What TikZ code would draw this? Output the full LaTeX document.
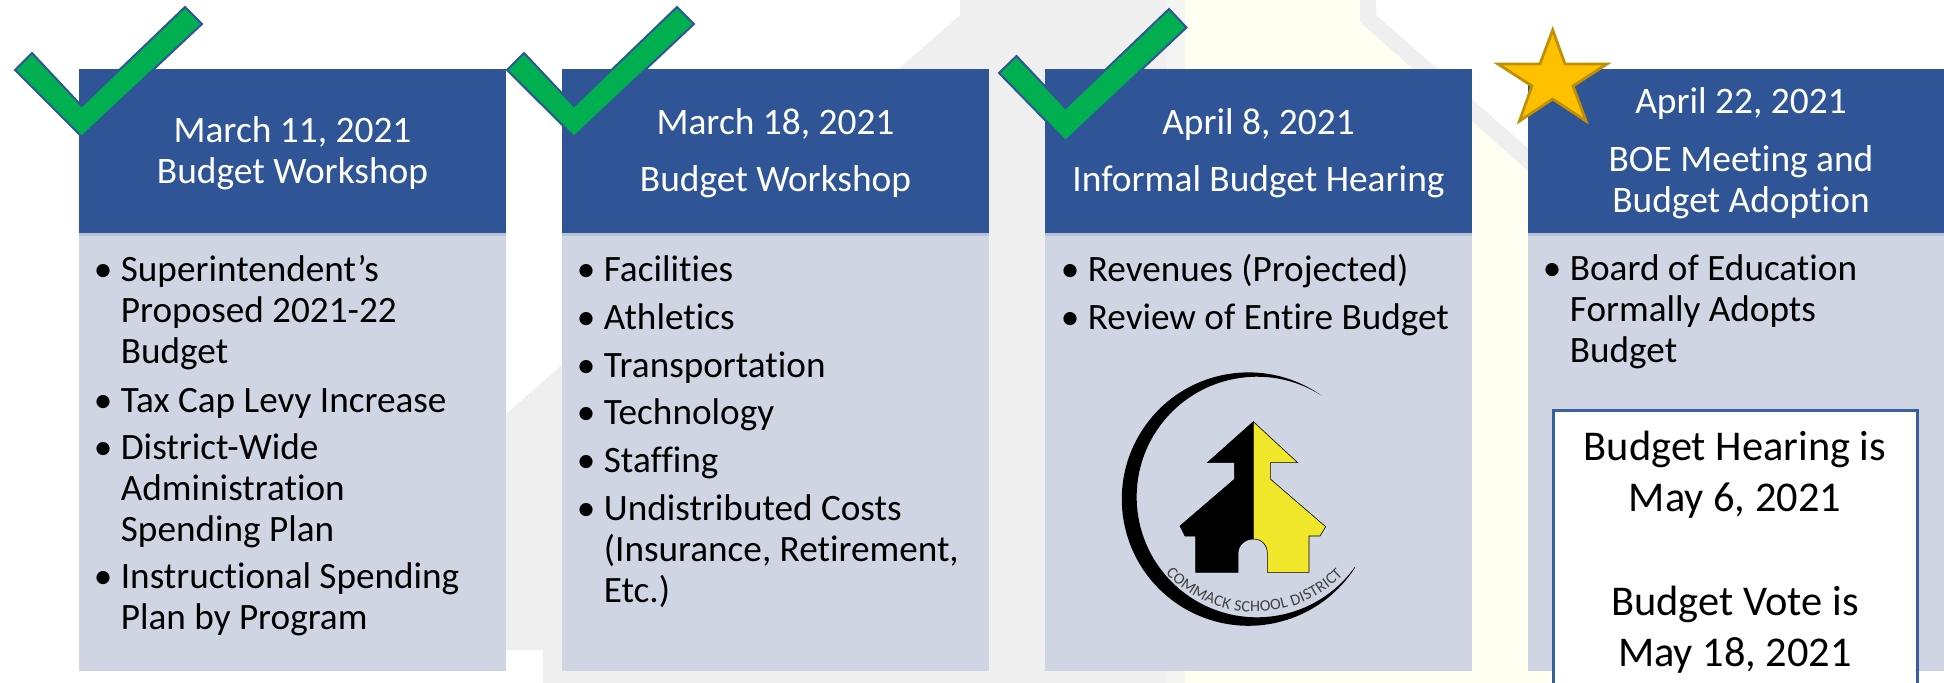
\documentclass[tikz,border=0pt]{standalone}
\usepackage{fontspec}
\setmainfont{Carlito}[Ligatures=NoCommon]
\usetikzlibrary{decorations.text}
\definecolor{hdr}{HTML}{2F5597}
\definecolor{bodyfill}{HTML}{CFD5E2}
\definecolor{hdrline}{HTML}{B7C1D7}
\definecolor{wmgray}{HTML}{EFEFEF}
\definecolor{wmstrip}{HTML}{F4F4F2}
\definecolor{wmyellow}{HTML}{FFFFF2}
\definecolor{chk}{HTML}{00B050}
\definecolor{starfill}{HTML}{FFC000}
\definecolor{starline}{HTML}{BF9000}
\definecolor{boxline}{HTML}{3A5F9F}
\definecolor{schoolyellow}{HTML}{F0E62A}
\newcommand{\bul}{\makebox[16.5pt][l]{\hspace*{3pt}•}}
\newcommand{\hng}{\hspace*{16.5pt}}
\tikzset{
  x=0.5pt,y=-0.5pt,
  hdrbox/.style={fill=hdr},
  bodybox/.style={fill=bodyfill},
  hdrrule/.style={fill=hdrline},
  hdrtext/.style={anchor=base,inner sep=0pt,text=white,align=center,font=\fontsize{18.7}{20.3}\selectfont},
  itemtext/.style={anchor=base west,inner sep=0pt,text=black,align=left,font=\fontsize{18.6}{20.5}\selectfont},
  notetext/.style={anchor=base,inner sep=0pt,text=black,align=center,font=\fontsize{21.2}{25.7}\selectfont},
  checkmark/.style={fill=chk,draw=hdr,line width=1pt,line join=miter},
}
\begin{document}
\begin{tikzpicture}
\useasboundingbox (0,0) rectangle (1944,683);
\clip (0,0) rectangle (1944,683);
% watermark
\fill[wmgray] (960,0) -- (960,15) -- (440,472) -- (440,650) -- (543,650) -- (543,683) -- (1167,683) -- (1167,0) -- cycle;
\fill[wmstrip] (1167,0) rectangle (1185,683);
\fill[wmyellow] (1185,0) -- (1360,0) -- (1360,22) -- (1900,500) -- (1900,683) -- (1185,683) -- cycle;
\fill[wmgray] (1360,0) -- (1376,0) -- (1376,15) -- (1900,475) -- (1900,500) -- (1360,22) -- cycle;
% cards
\foreach \l/\r in {79/506,562/989,1045/1472,1528/1960}{
  \path[bodybox] (\l,233) rectangle (\r,671);
  \path[hdrbox] (\l,69) rectangle (\r,233);
  \path[hdrrule] (\l,233) rectangle (\r,236.5);
}
% headers
\node[hdrtext] (h1) at (292.5,183.5) {March 11, 2021\\Budget Workshop};
\node[hdrtext] (h2a) at (775.5,135) {March 18, 2021};
\node[hdrtext] (h2b) at (775.5,191.5) {Budget Workshop};
\node[hdrtext] (h3a) at (1258.5,135) {April 8, 2021};
\node[hdrtext] (h3b) at (1258.5,191.5) {Informal Budget Hearing};
\node[hdrtext] (h4a) at (1741,114) {April 22, 2021};
\node[hdrtext] (h4b) at (1741,212.5) {BOE Meeting and\\Budget Adoption};
% card 1
\node[itemtext] (a1) at (87.5,364) {\bul Superintendent’s\\\hng Proposed 2021-22\\\hng Budget};
\node[itemtext] (a2) at (87.5,412.5) {\bul Tax Cap Levy Increase};
\node[itemtext] (a3) at (87.5,542) {\bul District-Wide\\\hng Administration\\\hng Spending Plan};
\node[itemtext] (a4) at (87.5,630) {\bul Instructional Spending\\\hng Plan by Program};
% card 2
\node[itemtext] (b1) at (570.5,282) {\bul Facilities};
\node[itemtext] (b2) at (570.5,330) {\bul Athletics};
\node[itemtext] (b3) at (570.5,378) {\bul Transportation};
\node[itemtext] (b4) at (570.5,425) {\bul Technology};
\node[itemtext] (b5) at (570.5,473) {\bul Staffing};
\node[itemtext] (b6) at (570.5,603) {\bul Undistributed Costs\\\hng (Insurance, Retirement,\\\hng Etc.)};
% card 3
\node[itemtext] (c1) at (1054.5,282) {\bul Revenues (Projected)};
\node[itemtext] (c2) at (1054.5,330) {\bul Review of Entire Budget};
% card 4
\node[itemtext] (d1) at (1536.5,363) {\bul Board of Education\\\hng Formally Adopts\\\hng Budget};
% white note
\draw[fill=white,draw=boxline,line width=1.5pt] (1553.5,410.5) rectangle (1917.5,720);
\node[notetext] (n1) at (1735,512) {Budget Hearing is\\May 6, 2021};
\node[notetext] (n2) at (1735,667) {Budget Vote is\\May 18, 2021};
% check marks
\draw[checkmark] (81.7,136.7) -- (15,70) -- (32,53) -- (81.7,106) -- (185,7) -- (202,24) -- cycle;
\draw[checkmark] (574,136.7) -- (507,70) -- (524,53) -- (574,106) -- (677,7) -- (694,24) -- cycle;
\draw[checkmark] (1065.5,141) -- (999,73) -- (1016.5,56) -- (1065.5,108) -- (1169,9) -- (1186.5,27.5) -- cycle;
% star
\draw[fill=starfill,draw=starline,line width=1.4pt,line join=miter]
  (1552.7,30) -- (1565,64) -- (1607,64) -- (1573,86) -- (1586,121) -- (1552.7,99)
  -- (1519.5,121) -- (1532,86) -- (1498,64) -- (1540,64) -- cycle;
% logo
\fill[black] (1321.7,395.7) arc[start angle=-54.7,end angle=-327.2,radius=126.7]
  -- (1355,566.7) arc[start angle=35.4,end angle=302.5,radius=120.3] -- cycle;
\begin{scope}[shift={(1100,350)},x=0.16667pt,y=-0.16667pt]
\draw[fill=black,draw=black,line width=0.3pt] (460,215) -- (322,338) -- (403,338) -- (403,388) -- (240,528) -- (255,558) -- (287,558) -- (287,667) -- (414,667) -- (414,610) .. controls (414,585) and (435,567) .. (460,567) -- cycle;
\draw[fill=schoolyellow,draw=black,line width=0.3pt] (460,215) -- (593,338) -- (512,338) -- (512,388) -- (677,530) -- (660,558) -- (627,558) -- (627,667) -- (502,667) -- (502,610) .. controls (502,585) and (485,567) .. (460,567) -- cycle;
\end{scope}
\path[decorate,decoration={text along path,text align=fit to path,
   text={|\fontsize{8}{8}\selectfont\color{black!75}|COMMACK SCHOOL DISTRICT}}]
  (1165.7,573) arc[start angle=137,end angle=44,radius=122.3];
\end{tikzpicture}
\end{document}
